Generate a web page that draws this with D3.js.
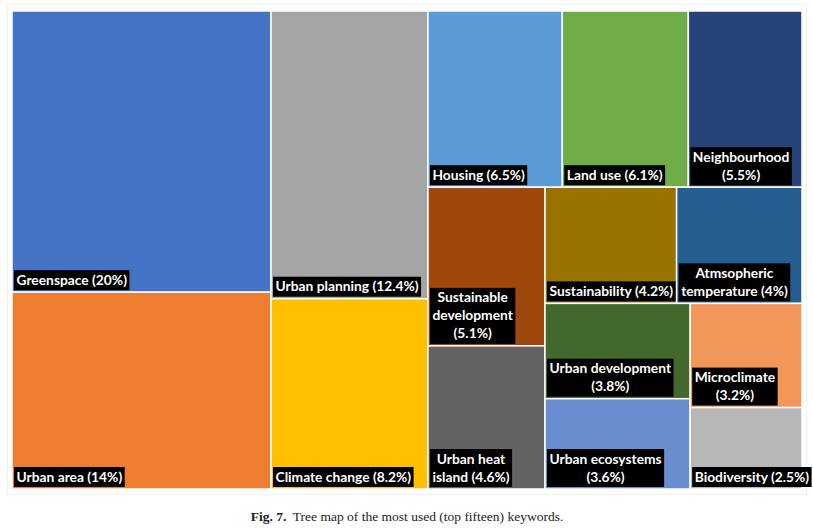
<!DOCTYPE html>
<html>
<head>
<meta charset="utf-8">
<script src="https://cdn.jsdelivr.net/npm/d3@7"></script>
<style>
  body { margin: 0; background: #fff; }
  svg { display: block; }
  .lbl { font-family: Lato, "Open Sans", sans-serif; font-weight: 700; font-size: 13.8px; fill: #fff; }
  .caption { font-family: "Liberation Serif", "DejaVu Serif", serif; font-size: 13.5px; fill: #222; }
</style>
</head>
<body>
<svg id="chart" width="813" height="529"></svg>
<script>
// keyword names ("\n" marks where the label wraps in the figure)
const keywords = [
  'Greenspace', 'Urban area', 'Urban planning', 'Climate change',
  'Housing', 'Land use', 'Neighbourhood\n', 'Sustainable\ndevelopment\n',
  'Urban heat\nisland', 'Sustainability', 'Atmsopheric\ntemperature',
  'Urban development\n', 'Microclimate\n', 'Urban ecosystems\n', 'Biodiversity',
];
const shares = [20, 14, 12.4, 8.2, 6.5, 6.1, 5.5, 5.1, 4.6, 4.2, 4, 3.8, 3.2, 3.6, 2.5];
const colors = [
  '#4472C4', '#ED7D31', '#A5A5A5', '#FFC000', '#5B9BD5', '#70AD47', '#264478',
  '#9E480E', '#636363', '#997300', '#255E91', '#43682B', '#F1975A', '#698ED0', '#B7B7B7',
];
// nesting of the tiles (indices into the arrays above)
const groups = [[0, 1], [2, 3], [[4, 5, 6], [[7, 8], [[9, 10], [[11, 13], [12, 14]]]]]];

const margin = { top: 11, left: 12 };
const width = 790;
const height = 478;

const svg = d3.select('#chart');

// faint frame round the chart
svg.append('rect')
  .attr('x', 7.5).attr('y', 4.5)
  .attr('width', 799).attr('height', 490)
  .attr('fill', 'none')
  .attr('stroke', '#f0f0f0');

const root = d3.hierarchy(groups, d => (Array.isArray(d) ? d : null))
  .sum(d => (Array.isArray(d) ? 0 : shares[d]));

d3.treemap()
  .tile(d3.treemapSliceDice)
  .size([width, height])(root);

const canvas = svg.append('g')
  .attr('transform', `translate(${margin.left}, ${margin.top})`);

const leaves = root.leaves();

canvas.selectAll('rect.cell')
  .data(leaves)
  .enter()
  .append('rect')
  .attr('class', 'cell')
  .attr('x', d => d.x0)
  .attr('y', d => d.y0)
  .attr('width', d => d.x1 - d.x0)
  .attr('height', d => d.y1 - d.y0)
  .attr('fill', d => colors[d.data])
  .attr('stroke', '#fff')
  .attr('stroke-width', 1.5);

const lineH = 18;
const pad = 2.5;

leaves.forEach((d) => {
  const name = keywords[d.data];
  const text = name.endsWith('\n') ? `${name}(${shares[d.data]}%)` : `${name} (${shares[d.data]}%)`;
  const lines = text.split('\n');
  const g = canvas.append('g');
  const box = g.append('rect').attr('fill', '#000');
  const t = g.append('text').attr('class', 'lbl').attr('text-anchor', 'middle');
  lines.forEach((l, i) => {
    t.append('tspan').attr('x', 0).attr('y', i * lineH).text(l);
  });
  let w = 0;
  t.selectAll('tspan').each(function () {
    w = Math.max(w, this.getComputedTextLength());
  });
  const bw = w + pad * 2;
  const bh = lines.length * lineH + 2;
  const bx = d.x0 + 2;
  const by = d.y1 - 2 - bh;
  box.attr('x', bx).attr('y', by).attr('width', bw).attr('height', bh);
  t.attr('transform', `translate(${bx + bw / 2}, ${by + 14.5})`);
});

const cap = svg.append('text')
  .attr('class', 'caption')
  .attr('x', 407)
  .attr('y', 521)
  .attr('text-anchor', 'middle');
cap.append('tspan').attr('font-weight', 700).text('Fig. 7.');
cap.append('tspan').text('\u00a0 Tree map of the most used (top fifteen) keywords.');
</script>
</body>
</html>
